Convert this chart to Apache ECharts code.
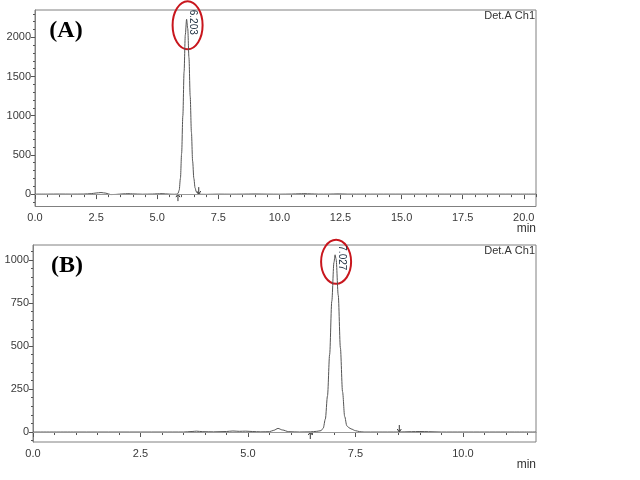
<!DOCTYPE html>
<html><head><meta charset="utf-8">
<script src="https://cdn.jsdelivr.net/npm/echarts@6/dist/echarts.min.js"></script>
<style>html,body{margin:0;padding:0;background:#fff}#c{width:640px;height:480px}</style>
</head><body><div id="c"></div><script>
// ---- Data ----
const timesA  = [0,0.5,1.0,1.5,2.0,2.3,2.5,2.7,2.9,3.1,3.3,3.6,3.8,4.0,4.4,4.8,5.0,5.2,5.5,5.7,5.8,5.85,5.9,5.95,6.0,6.05,6.1,6.15,6.203,6.25,6.3,6.35,6.4,6.45,6.5,6.55,6.6,6.65,6.7,6.8,7.0,7.5,8.0,8.5,9.0,9.5,10.0,10.5,10.8,11.0,11.3,11.6,12.0,12.4,12.8,13.5,14.5,15.5,16.5,17.5,18.5,19.5,20.5];
const signalA = [0,0,1,0,1,6,14,20,12,-6,-4,3,6,3,-1,1,4,6,0,-2,0,8,50,200,520,1000,1560,2030,2230,2110,1740,1250,790,420,200,80,30,10,3,-2,-3,0,-1,0,2,0,-1,1,4,6,3,0,0,3,0,0,0,0,0,0,0,0,0];
const timesB  = [0,1,2,3,3.5,3.7,3.8,3.95,4.2,4.5,4.65,4.8,4.95,5.1,5.3,5.5,5.6,5.7,5.8,5.95,6.2,6.45,6.6,6.7,6.75,6.8,6.85,6.9,6.95,7.0,7.027,7.05,7.1,7.15,7.2,7.25,7.3,7.35,7.4,7.5,7.6,7.7,8.0,8.5,8.8,9.0,9.2,9.5,10.0,10.5,11.0,11.7];
const signalB = [0,0,0,0,0,3,5,2,1,3,6,4,5,3,1,2,10,21,12,2,0,1,4,8,22,75,210,450,760,985,1030,1005,795,490,235,90,36,25,18,8,2,0,0,0,2,3,2,0,0,0,0,0];
const xTicksA = [0,2.5,5,7.5,10,12.5,15,17.5,20];
const xTicksB = [0,2.5,5,7.5,10];
const yTicksA = [0,500,1000,1500,2000];
const yTicksB = [0,250,500,750,1000];
const peakA = [6.203, 2230];
const peakB = [7.027, 1030];
const peakLabels = ['6.203','7.027'];
const arrowsA = [[5.85,'up'],[6.70,'down']];
const arrowsB = [[6.45,'up'],[8.52,'down']];

function range(a,b,s){const r=[];for(let v=a;v<=b+1e-9;v+=s)r.push(+v.toFixed(4));return r;}
const AX='#808080', TXT='#3a3a3a', FONT='"Liberation Sans", Arial, sans-serif';

function xMajor(gi,max,ticks){return {type:'value',gridIndex:gi,min:0,max:max,position:'bottom',
  axisLine:{show:true,lineStyle:{color:AX}},
  axisTick:{show:true,customValues:ticks,length:5,lineStyle:{color:'#555'}},
  axisLabel:{customValues:ticks,formatter:v=>v.toFixed(1),color:TXT,fontSize:11,fontFamily:FONT,margin:6},
  splitLine:{show:false}};}
function xMinor(gi,max){return {type:'value',gridIndex:gi,min:0,max:max,position:'bottom',offset:0,
  axisLine:{show:false},axisTick:{show:true,customValues:range(0,max,0.5),length:3,lineStyle:{color:'#555'}},
  axisLabel:{show:false},splitLine:{show:false}};}
function yMajor(gi,min,max,ticks){return {type:'value',gridIndex:gi,min:min,max:max,position:'left',
  axisLine:{show:true,lineStyle:{color:AX}},
  axisTick:{show:true,customValues:ticks,length:4,lineStyle:{color:'#555'}},
  axisLabel:{customValues:ticks,formatter:v=>String(v),color:TXT,fontSize:11,fontFamily:FONT,margin:4},
  splitLine:{show:false}};}
function yMinor(gi,min,max,step){return {type:'value',gridIndex:gi,min:min,max:max,position:'left',offset:0,
  axisLine:{show:false},axisTick:{show:true,customValues:range(Math.ceil(min/step)*step,max,step),length:2,lineStyle:{color:'#555'}},
  axisLabel:{show:false},splitLine:{show:false}};}

function lineSeries(xi,yi,times,sig){return {type:'line',xAxisIndex:xi,yAxisIndex:yi,
  data:times.map((t,i)=>[t,sig[i]]),showSymbol:false,smooth:0.3,smoothMonotone:'x',
  lineStyle:{color:'#555',width:1},silent:true,
  markLine:{silent:true,symbol:['none','none'],label:{show:false},
    lineStyle:{color:'#999',type:'solid',width:1},data:[{yAxis:0}]}};}

const chart = echarts.init(document.getElementById('c'),null,{renderer:'canvas'});
const textStyle=(t,x,y,extra)=>({type:'text',x:x,y:y,style:Object.assign({text:t,font:'11px '+FONT,fill:'#333'},extra||{})});
const staticGraphics=[
  {type:'text',x:66,y:31,style:{text:'(A)',font:'bold 24px "Liberation Serif", "Times New Roman", serif',fill:'#000',align:'center',verticalAlign:'middle'}},
  {type:'text',x:67,y:266,style:{text:'(B)',font:'bold 24px "Liberation Serif", "Times New Roman", serif',fill:'#000',align:'center',verticalAlign:'middle'}},
  textStyle('Det.A Ch1',535,16,{align:'right',verticalAlign:'middle'}),
  textStyle('Det.A Ch1',535,251,{align:'right',verticalAlign:'middle'}),
  textStyle('min',536,229,{align:'right',verticalAlign:'middle',font:'12px '+FONT}),
  textStyle('min',536,465,{align:'right',verticalAlign:'middle',font:'12px '+FONT})
];
chart.setOption({
  animation:false,
  backgroundColor:'#fff',
  grid:[
    {left:35,top:10,width:501,height:196.5,show:true,borderColor:AX,borderWidth:1,containLabel:false},
    {left:33,top:245,width:503,height:197,show:true,borderColor:AX,borderWidth:1,containLabel:false}
  ],
  xAxis:[xMajor(0,20.5,xTicksA),xMinor(0,20.5),xMajor(1,11.7,xTicksB),xMinor(1,11.7)],
  yAxis:[yMajor(0,-158,2348,yTicksA),yMinor(0,-158,2348,100),yMajor(1,-58,1087,yTicksB),yMinor(1,-58,1087,50)],
  series:[lineSeries(0,0,timesA,signalA),lineSeries(2,2,timesB,signalB)],
  graphic:staticGraphics
});

function annot(si,peak,label,arrows,ell,lab){
  const g=[];
  const p=chart.convertToPixel({seriesIndex:si},peak);
  g.push({type:'ellipse',shape:{cx:p[0]+ell[0],cy:p[1]+ell[1],rx:ell[2],ry:ell[3]},style:{fill:'none',stroke:'#c8161d',lineWidth:2}});
  g.push({type:'text',x:p[0]+lab[0],y:p[1]+lab[1],rotation:-Math.PI/2,style:{text:label,font:'10px '+FONT,fill:'#223344',align:'center',verticalAlign:'middle'}});
  arrows.forEach(a=>{
    const q=chart.convertToPixel({seriesIndex:si},[a[0],0]);
    const s=a[1]==='up'?1:-1;
    g.push({type:'line',shape:{x1:q[0],y1:q[1]+7*s,x2:q[0],y2:q[1]},style:{stroke:'#333',lineWidth:1}});
    g.push({type:'polyline',shape:{points:[[q[0]-2,q[1]+3*s],[q[0],q[1]],[q[0]+2,q[1]+3*s]]},style:{stroke:'#333',lineWidth:1,fill:'none'}});
  });
  return g;
}
const extra=[].concat(
  annot(0,peakA,peakLabels[0],arrowsA,[1,6,15,24],[6,3]),
  annot(1,peakB,peakLabels[1],arrowsB,[1,7,15,22],[7,3])
);
chart.setOption({graphic:staticGraphics.concat(extra)});
</script></body></html>
